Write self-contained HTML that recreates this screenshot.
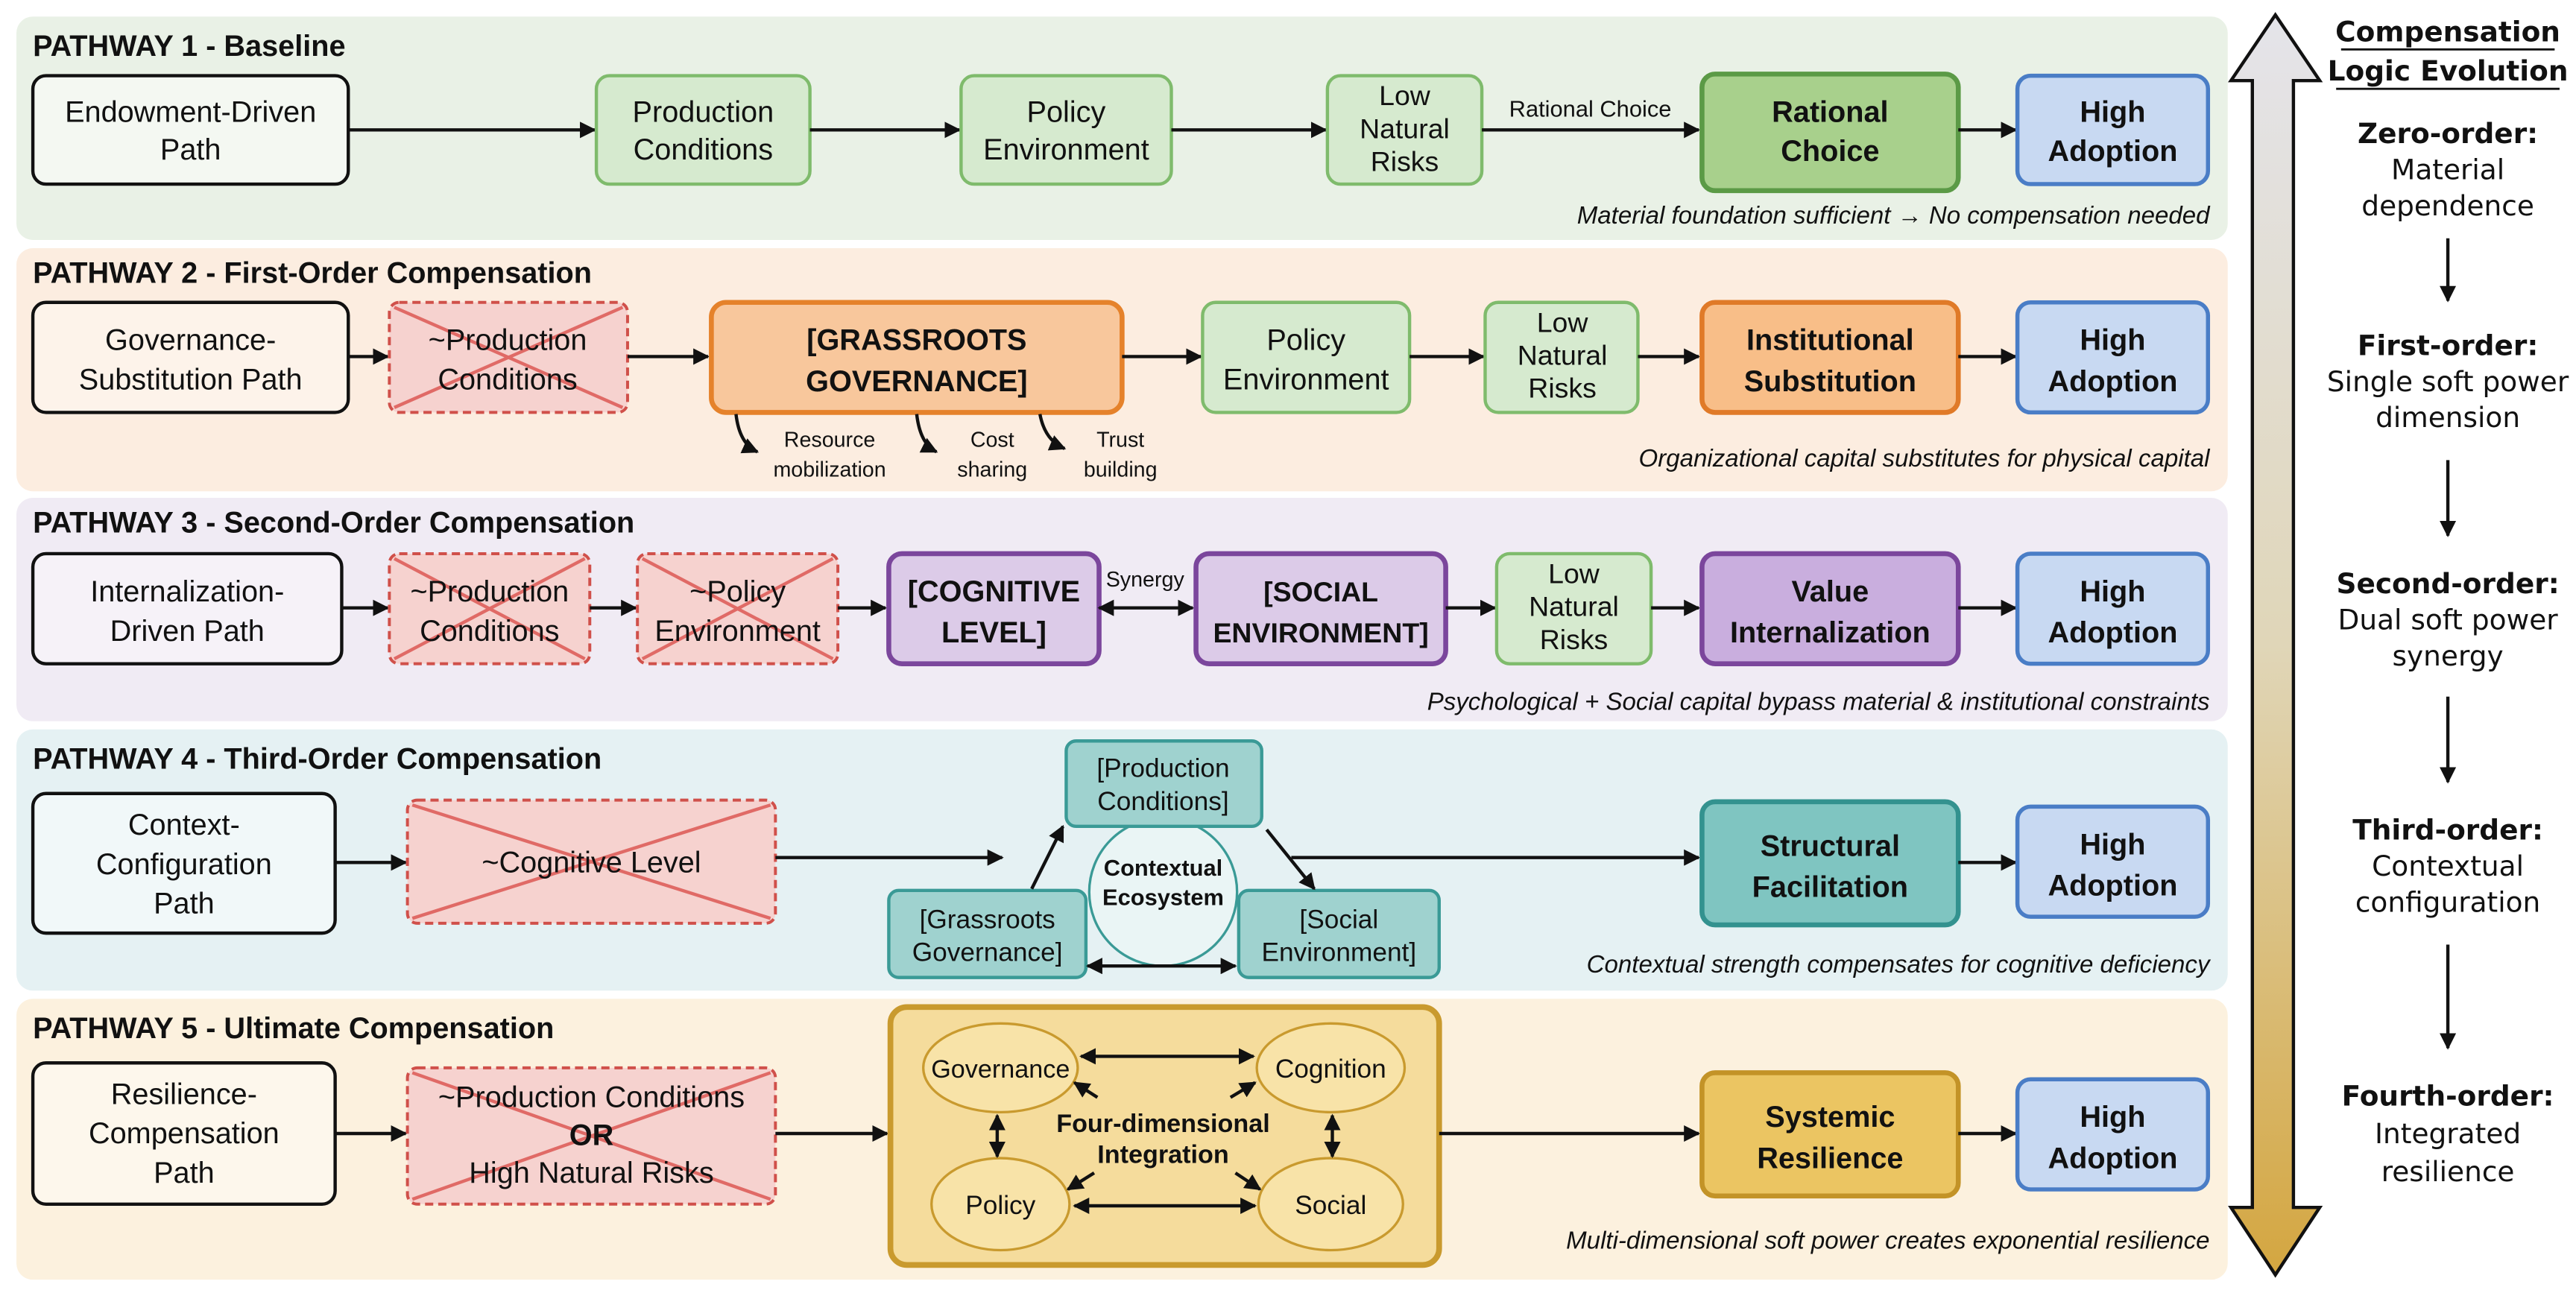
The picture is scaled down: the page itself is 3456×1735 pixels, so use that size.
<!DOCTYPE html>
<html><head><meta charset="utf-8"><style>
html,body{margin:0;padding:0;background:#fff;}
svg{display:block;}
text{font-family:"Liberation Sans",Arial,sans-serif;fill:#111;}
.t{font-size:18px;text-anchor:middle;}
.b{font-weight:bold;}
.h{font-size:18px;font-weight:bold;}
.cap{font-size:15px;font-style:italic;text-anchor:end;}
.sm{font-size:13px;text-anchor:middle;}
.r{font-family:"DejaVu Sans","Liberation Sans",sans-serif;text-anchor:middle;font-size:17px;}
.ln{stroke:#111;stroke-width:2;fill:none;}
</style></head><body>
<svg width="3456" height="1735" viewBox="0 0 1568 787" xmlns="http://www.w3.org/2000/svg">
<defs>
<marker id="a" viewBox="0 0 10 10" refX="9" refY="5" markerWidth="5" markerHeight="5" orient="auto-start-reverse"><path d="M0,0 L10,5 L0,10 z" fill="#111"/></marker>
<linearGradient id="g" x1="0" y1="0" x2="0" y2="1"><stop offset="0" stop-color="#e4e4ea"/><stop offset="0.5" stop-color="#e0d6b8"/><stop offset="1" stop-color="#d4a640"/></linearGradient>
</defs>
<rect x="10" y="10" width="1346" height="136" rx="10" fill="#e9f1e6"/>
<rect x="10" y="151" width="1346" height="148" rx="10" fill="#fcede0"/>
<rect x="10" y="303" width="1346" height="136" rx="10" fill="#f0ebf4"/>
<rect x="10" y="444" width="1346" height="159" rx="10" fill="#e5f1f3"/>
<rect x="10" y="608" width="1346" height="171" rx="10" fill="#fcf1de"/>

<path d="M1385,9 L1412,49 L1396,49 L1396,735 L1412,735 L1385,776 L1358,735 L1371,735 L1371,49 L1358,49 Z" fill="url(#g)" stroke="#111" stroke-width="2"/>
<text class="r b" x="1490" y="25">Compensation</text>
<text class="r b" x="1490" y="49">Logic Evolution</text>
<line x1="1425" y1="30" x2="1555" y2="30" stroke="#111" stroke-width="1.3"/>
<line x1="1422" y1="54" x2="1558" y2="54" stroke="#111" stroke-width="1.3"/>
<text class="r b" x="1490" y="87">Zero-order:</text><text class="r" x="1490" y="109">Material</text><text class="r" x="1490" y="131">dependence</text>
<line class="ln" x1="1490" y1="145" x2="1490" y2="183" marker-end="url(#a)"/>
<text class="r b" x="1490" y="216">First-order:</text><text class="r" x="1490" y="238">Single soft power</text><text class="r" x="1490" y="260">dimension</text>
<line class="ln" x1="1490" y1="280" x2="1490" y2="326" marker-end="url(#a)"/>
<text class="r b" x="1490" y="361">Second-order:</text><text class="r" x="1490" y="383">Dual soft power</text><text class="r" x="1490" y="405">synergy</text>
<line class="ln" x1="1490" y1="424" x2="1490" y2="476" marker-end="url(#a)"/>
<text class="r b" x="1490" y="511">Third-order:</text><text class="r" x="1490" y="533">Contextual</text><text class="r" x="1490" y="555">configuration</text>
<line class="ln" x1="1490" y1="575" x2="1490" y2="638" marker-end="url(#a)"/>
<text class="r b" x="1490" y="673">Fourth-order:</text><text class="r" x="1490" y="696">Integrated</text><text class="r" x="1490" y="719">resilience</text>

<!-- PATHWAY 1 -->
<text class="h" x="20" y="34">PATHWAY 1 - Baseline</text>
<rect x="20" y="46" width="192" height="66" rx="8" fill="#f4f8f2" stroke="#111" stroke-width="2"/>
<text class="t" x="116" y="74">Endowment-Driven</text><text class="t" x="116" y="97">Path</text>
<line class="ln" x1="212" y1="79" x2="362" y2="79" marker-end="url(#a)"/>
<rect x="363" y="46" width="130" height="66" rx="8" fill="#d6eacf" stroke="#7fbb6c" stroke-width="2"/>
<text class="t" x="428" y="74">Production</text><text class="t" x="428" y="97">Conditions</text>
<line class="ln" x1="493" y1="79" x2="584" y2="79" marker-end="url(#a)"/>
<rect x="585" y="46" width="128" height="66" rx="8" fill="#d6eacf" stroke="#7fbb6c" stroke-width="2"/>
<text class="t" x="649" y="74">Policy</text><text class="t" x="649" y="97">Environment</text>
<line class="ln" x1="713" y1="79" x2="807" y2="79" marker-end="url(#a)"/>
<rect x="808" y="46" width="94" height="66" rx="8" fill="#d6eacf" stroke="#7fbb6c" stroke-width="2"/>
<text class="t" x="855" y="64" style="font-size:17px">Low</text><text class="t" x="855" y="84" style="font-size:17px">Natural</text><text class="t" x="855" y="104" style="font-size:17px">Risks</text>
<line class="ln" x1="902" y1="79" x2="1034" y2="79" marker-end="url(#a)"/>
<text class="sm" x="968" y="71" style="font-size:14px">Rational Choice</text>
<rect x="1036" y="45" width="156" height="71" rx="8" fill="#a8d08c" stroke="#5b9a46" stroke-width="3"/>
<text class="t b" x="1114" y="74">Rational</text><text class="t b" x="1114" y="98">Choice</text>
<line class="ln" x1="1192" y1="79" x2="1227" y2="79" marker-end="url(#a)"/>
<rect x="1228" y="46" width="116" height="66" rx="8" fill="#c8d9f2" stroke="#4a7dc6" stroke-width="2.5"/>
<text class="t b" x="1286" y="74">High</text><text class="t b" x="1286" y="98">Adoption</text>
<text class="cap" x="1345" y="136">Material foundation sufficient → No compensation needed</text>

<!-- PATHWAY 2 -->
<text class="h" x="20" y="172">PATHWAY 2 - First-Order Compensation</text>
<rect x="20" y="184" width="192" height="67" rx="8" fill="#fdf3ea" stroke="#111" stroke-width="2"/>
<text class="t" x="116" y="213">Governance-</text><text class="t" x="116" y="237">Substitution Path</text>
<line class="ln" x1="212" y1="217" x2="236" y2="217" marker-end="url(#a)"/>
<rect x="237" y="184" width="145" height="67" rx="6" fill="#f6d2cf" stroke="#d0504a" stroke-width="1.8" stroke-dasharray="5,3"/>
<line x1="240" y1="187" x2="379" y2="248" stroke="#e06a66" stroke-width="2"/><line x1="379" y1="187" x2="240" y2="248" stroke="#e06a66" stroke-width="2"/>
<text class="t" x="309" y="213">~Production</text><text class="t" x="309" y="237">Conditions</text>
<line class="ln" x1="382" y1="217" x2="431" y2="217" marker-end="url(#a)"/>
<rect x="433" y="184" width="250" height="67" rx="9" fill="#f8c79c" stroke="#e5822b" stroke-width="3"/>
<text class="t b" x="558" y="213">[GRASSROOTS</text><text class="t b" x="558" y="238">GOVERNANCE]</text>
<path class="ln" d="M448,252 Q450,270 461,275" stroke-width="1.3" marker-end="url(#a)"/>
<path class="ln" d="M558,252 Q560,270 570,275" stroke-width="1.3" marker-end="url(#a)"/>
<path class="ln" d="M633,252 Q636,268 648,273" stroke-width="1.3" marker-end="url(#a)"/>
<text class="sm" x="505" y="272">Resource</text><text class="sm" x="505" y="290">mobilization</text>
<text class="sm" x="604" y="272">Cost</text><text class="sm" x="604" y="290">sharing</text>
<text class="sm" x="682" y="272">Trust</text><text class="sm" x="682" y="290">building</text>
<line class="ln" x1="683" y1="217" x2="731" y2="217" marker-end="url(#a)"/>
<rect x="732" y="184" width="126" height="67" rx="8" fill="#d6eacf" stroke="#7fbb6c" stroke-width="2"/>
<text class="t" x="795" y="213">Policy</text><text class="t" x="795" y="237">Environment</text>
<line class="ln" x1="858" y1="217" x2="903" y2="217" marker-end="url(#a)"/>
<rect x="904" y="184" width="93" height="67" rx="8" fill="#d6eacf" stroke="#7fbb6c" stroke-width="2"/>
<text class="t" x="951" y="202" style="font-size:17px">Low</text><text class="t" x="951" y="222" style="font-size:17px">Natural</text><text class="t" x="951" y="242" style="font-size:17px">Risks</text>
<line class="ln" x1="997" y1="217" x2="1034" y2="217" marker-end="url(#a)"/>
<rect x="1036" y="184" width="156" height="67" rx="8" fill="#f8be88" stroke="#e07a28" stroke-width="3"/>
<text class="t b" x="1114" y="213">Institutional</text><text class="t b" x="1114" y="238">Substitution</text>
<line class="ln" x1="1192" y1="217" x2="1227" y2="217" marker-end="url(#a)"/>
<rect x="1228" y="184" width="116" height="67" rx="8" fill="#c8d9f2" stroke="#4a7dc6" stroke-width="2.5"/>
<text class="t b" x="1286" y="213">High</text><text class="t b" x="1286" y="238">Adoption</text>
<text class="cap" x="1345" y="284">Organizational capital substitutes for physical capital</text>

<!-- PATHWAY 3 -->
<text class="h" x="20" y="324">PATHWAY 3 - Second-Order Compensation</text>
<rect x="20" y="337" width="188" height="67" rx="8" fill="#f6f2f8" stroke="#111" stroke-width="2"/>
<text class="t" x="114" y="366">Internalization-</text><text class="t" x="114" y="390">Driven Path</text>
<line class="ln" x1="208" y1="370" x2="236" y2="370" marker-end="url(#a)"/>
<rect x="237" y="337" width="122" height="67" rx="6" fill="#f6d2cf" stroke="#d0504a" stroke-width="1.8" stroke-dasharray="5,3"/>
<line x1="240" y1="340" x2="356" y2="401" stroke="#e06a66" stroke-width="2"/><line x1="356" y1="340" x2="240" y2="401" stroke="#e06a66" stroke-width="2"/>
<text class="t" x="298" y="366">~Production</text><text class="t" x="298" y="390">Conditions</text>
<line class="ln" x1="359" y1="370" x2="387" y2="370" marker-end="url(#a)"/>
<rect x="388" y="337" width="122" height="67" rx="6" fill="#f6d2cf" stroke="#d0504a" stroke-width="1.8" stroke-dasharray="5,3"/>
<line x1="391" y1="340" x2="507" y2="401" stroke="#e06a66" stroke-width="2"/><line x1="507" y1="340" x2="391" y2="401" stroke="#e06a66" stroke-width="2"/>
<text class="t" x="449" y="366">~Policy</text><text class="t" x="449" y="390">Environment</text>
<line class="ln" x1="510" y1="370" x2="539" y2="370" marker-end="url(#a)"/>
<rect x="541" y="337" width="128" height="67" rx="8" fill="#dccbe8" stroke="#7b469c" stroke-width="3"/>
<text class="t b" x="605" y="366">[COGNITIVE</text><text class="t b" x="605" y="391">LEVEL]</text>
<line class="ln" x1="669" y1="370" x2="726" y2="370" marker-start="url(#a)" marker-end="url(#a)"/>
<text class="sm" x="697" y="357">Synergy</text>
<rect x="728" y="337" width="152" height="67" rx="8" fill="#dccbe8" stroke="#7b469c" stroke-width="3"/>
<text class="t b" x="804" y="366" style="font-size:17px">[SOCIAL</text><text class="t b" x="804" y="391" style="font-size:17px">ENVIRONMENT]</text>
<line class="ln" x1="880" y1="370" x2="910" y2="370" marker-end="url(#a)"/>
<rect x="911" y="337" width="94" height="67" rx="8" fill="#d6eacf" stroke="#7fbb6c" stroke-width="2"/>
<text class="t" x="958" y="355" style="font-size:17px">Low</text><text class="t" x="958" y="375" style="font-size:17px">Natural</text><text class="t" x="958" y="395" style="font-size:17px">Risks</text>
<line class="ln" x1="1005" y1="370" x2="1034" y2="370" marker-end="url(#a)"/>
<rect x="1036" y="337" width="156" height="67" rx="8" fill="#c9aede" stroke="#7b469c" stroke-width="3"/>
<text class="t b" x="1114" y="366">Value</text><text class="t b" x="1114" y="391">Internalization</text>
<line class="ln" x1="1192" y1="370" x2="1227" y2="370" marker-end="url(#a)"/>
<rect x="1228" y="337" width="116" height="67" rx="8" fill="#c8d9f2" stroke="#4a7dc6" stroke-width="2.5"/>
<text class="t b" x="1286" y="366">High</text><text class="t b" x="1286" y="391">Adoption</text>
<text class="cap" x="1345" y="432">Psychological + Social capital bypass material &amp; institutional constraints</text>

<!-- PATHWAY 4 -->
<text class="h" x="20" y="468">PATHWAY 4 - Third-Order Compensation</text>
<rect x="20" y="483" width="184" height="85" rx="8" fill="#f1f8f9" stroke="#111" stroke-width="2"/>
<text class="t" x="112" y="508">Context-</text><text class="t" x="112" y="532">Configuration</text><text class="t" x="112" y="556">Path</text>
<line class="ln" x1="204" y1="525" x2="247" y2="525" marker-end="url(#a)"/>
<rect x="248" y="487" width="224" height="75" rx="6" fill="#f6d2cf" stroke="#d0504a" stroke-width="1.8" stroke-dasharray="5,3"/>
<line x1="251" y1="490" x2="469" y2="559" stroke="#e06a66" stroke-width="2"/><line x1="469" y1="490" x2="251" y2="559" stroke="#e06a66" stroke-width="2"/>
<text class="t" x="360" y="531">~Cognitive Level</text>
<line class="ln" x1="472" y1="522" x2="610" y2="522" marker-end="url(#a)"/>
<circle cx="708" cy="543" r="45" fill="#eaf5f5" stroke="#3a9a96" stroke-width="1.5"/>
<text class="t b" x="708" y="533" style="font-size:14px">Contextual</text><text class="t b" x="708" y="551" style="font-size:14px">Ecosystem</text>
<rect x="649" y="451" width="119" height="52" rx="6" fill="#9fd2cf" stroke="#3a9a96" stroke-width="2"/>
<text class="t" x="708" y="473" style="font-size:16px">[Production</text><text class="t" x="708" y="493" style="font-size:16px">Conditions]</text>
<rect x="541" y="542" width="120" height="53" rx="6" fill="#9fd2cf" stroke="#3a9a96" stroke-width="2"/>
<text class="t" x="601" y="565" style="font-size:16px">[Grassroots</text><text class="t" x="601" y="585" style="font-size:16px">Governance]</text>
<rect x="754" y="542" width="122" height="53" rx="6" fill="#9fd2cf" stroke="#3a9a96" stroke-width="2"/>
<text class="t" x="815" y="565" style="font-size:16px">[Social</text><text class="t" x="815" y="585" style="font-size:16px">Environment]</text>
<line class="ln" x1="628" y1="541" x2="647" y2="503" stroke-width="1.5" marker-end="url(#a)"/>
<line class="ln" x1="771" y1="505" x2="800" y2="541" stroke-width="1.5" marker-end="url(#a)"/>
<line class="ln" x1="662" y1="588" x2="752" y2="588" stroke-width="1.5" marker-start="url(#a)" marker-end="url(#a)"/>
<line class="ln" x1="786" y1="522" x2="1034" y2="522" marker-end="url(#a)"/>
<rect x="1036" y="488" width="156" height="75" rx="8" fill="#7fc5c1" stroke="#33928f" stroke-width="3"/>
<text class="t b" x="1114" y="521">Structural</text><text class="t b" x="1114" y="546">Facilitation</text>
<line class="ln" x1="1192" y1="525" x2="1227" y2="525" marker-end="url(#a)"/>
<rect x="1228" y="491" width="116" height="67" rx="8" fill="#c8d9f2" stroke="#4a7dc6" stroke-width="2.5"/>
<text class="t b" x="1286" y="520">High</text><text class="t b" x="1286" y="545">Adoption</text>
<text class="cap" x="1345" y="592">Contextual strength compensates for cognitive deficiency</text>

<!-- PATHWAY 5 -->
<text class="h" x="20" y="632">PATHWAY 5 - Ultimate Compensation</text>
<rect x="20" y="647" width="184" height="86" rx="8" fill="#fdf7ec" stroke="#111" stroke-width="2"/>
<text class="t" x="112" y="672">Resilience-</text><text class="t" x="112" y="696">Compensation</text><text class="t" x="112" y="720">Path</text>
<line class="ln" x1="204" y1="690" x2="247" y2="690" marker-end="url(#a)"/>
<rect x="248" y="650" width="224" height="83" rx="6" fill="#f6d2cf" stroke="#d0504a" stroke-width="1.8" stroke-dasharray="5,3"/>
<line x1="251" y1="653" x2="469" y2="730" stroke="#e06a66" stroke-width="2"/><line x1="469" y1="653" x2="251" y2="730" stroke="#e06a66" stroke-width="2"/>
<text class="t" x="360" y="674">~Production Conditions</text><text class="t b" x="360" y="697">OR</text><text class="t" x="360" y="720">High Natural Risks</text>
<line class="ln" x1="472" y1="690" x2="540" y2="690" marker-end="url(#a)"/>
<rect x="542" y="613" width="334" height="157" rx="10" fill="#f5dc9c" stroke="#c99a2e" stroke-width="3.5"/>
<ellipse cx="609" cy="650" rx="47" ry="27" fill="#f8e3a8" stroke="#c99a2e" stroke-width="1.5"/>
<ellipse cx="810" cy="650" rx="45" ry="27" fill="#f8e3a8" stroke="#c99a2e" stroke-width="1.5"/>
<ellipse cx="609" cy="733" rx="42" ry="28" fill="#f8e3a8" stroke="#c99a2e" stroke-width="1.5"/>
<ellipse cx="810" cy="733" rx="44" ry="28" fill="#f8e3a8" stroke="#c99a2e" stroke-width="1.5"/>
<text class="t" x="609" y="656" style="font-size:15.5px">Governance</text>
<text class="t" x="810" y="656" style="font-size:16px">Cognition</text>
<text class="t" x="609" y="739" style="font-size:16px">Policy</text>
<text class="t" x="810" y="739" style="font-size:16px">Social</text>
<text class="t b" x="708" y="689" style="font-size:15.5px">Four-dimensional</text><text class="t b" x="708" y="708" style="font-size:15.5px">Integration</text>
<line class="ln" x1="658" y1="643" x2="763" y2="643" stroke-width="1.5" marker-start="url(#a)" marker-end="url(#a)"/>
<line class="ln" x1="654" y1="734" x2="764" y2="734" stroke-width="1.5" marker-start="url(#a)" marker-end="url(#a)"/>
<line class="ln" x1="607" y1="679" x2="607" y2="704" stroke-width="1.5" marker-start="url(#a)" marker-end="url(#a)"/>
<line class="ln" x1="811" y1="679" x2="811" y2="704" stroke-width="1.5" marker-start="url(#a)" marker-end="url(#a)"/>
<line class="ln" x1="668" y1="668" x2="654" y2="659" stroke-width="1.5" marker-end="url(#a)"/>
<line class="ln" x1="749" y1="668" x2="764" y2="659" stroke-width="1.5" marker-end="url(#a)"/>
<line class="ln" x1="666" y1="714" x2="650" y2="724" stroke-width="1.5" marker-end="url(#a)"/>
<line class="ln" x1="752" y1="714" x2="767" y2="724" stroke-width="1.5" marker-end="url(#a)"/>
<line class="ln" x1="876" y1="690" x2="1034" y2="690" marker-end="url(#a)"/>
<rect x="1036" y="653" width="156" height="75" rx="8" fill="#ebc562" stroke="#c39327" stroke-width="3"/>
<text class="t b" x="1114" y="686">Systemic</text><text class="t b" x="1114" y="711">Resilience</text>
<line class="ln" x1="1192" y1="690" x2="1227" y2="690" marker-end="url(#a)"/>
<rect x="1228" y="657" width="116" height="67" rx="8" fill="#c8d9f2" stroke="#4a7dc6" stroke-width="2.5"/>
<text class="t b" x="1286" y="686">High</text><text class="t b" x="1286" y="711">Adoption</text>
<text class="cap" x="1345" y="760">Multi-dimensional soft power creates exponential resilience</text>
</svg>
</body></html>
